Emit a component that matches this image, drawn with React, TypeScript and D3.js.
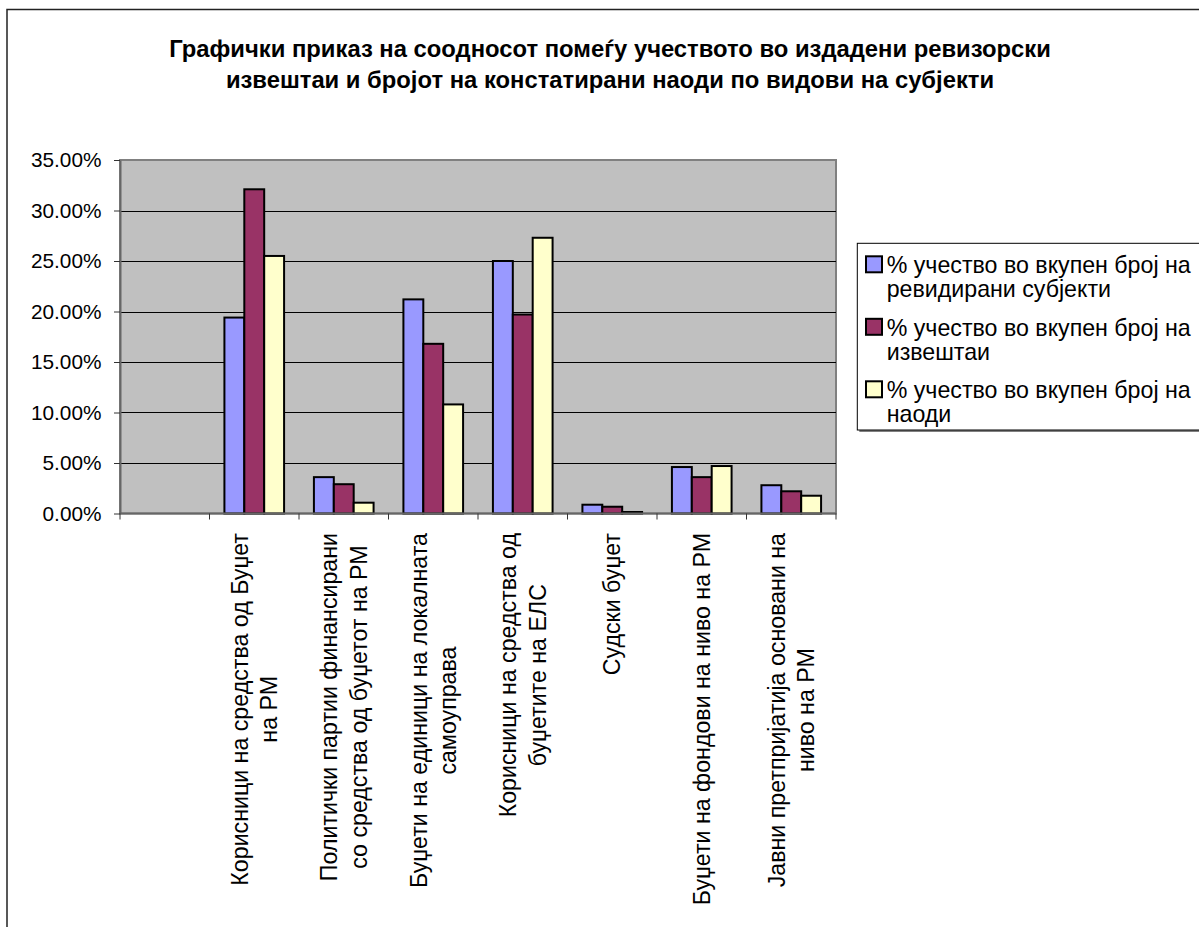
import React, { useEffect, useRef } from "react";
import * as d3 from "d3";

const titleLines: string[] = [
  "Графички приказ на соодносот помеѓу учеството во издадени ревизорски",
  "извештаи и бројот на констатирани наоди по видови на субјекти",
];

const categories: string[][] = [
  [""],
  ["Корисници на средства од Буџет", "на РМ"],
  ["Политички партии финансирани", "со средства од буџетот на РМ"],
  ["Буџети на единици на локалната", "самоуправа"],
  ["Корисници на средства од", "буџетите на ЕЛС"],
  ["Судски буџет"],
  ["Буџети на фондови на ниво на РМ"],
  ["Јавни претпријатија основани на", "ниво на РМ"],
];

const seriesNames: string[][] = [
  ["% учество во вкупен број на", "ревидирани субјекти"],
  ["% учество во вкупен број на", "извештаи"],
  ["% учество во вкупен број на", "наоди"],
];

const revidiraniSubjekti: number[] = [0, 0.194, 0.036, 0.212, 0.25, 0.0087, 0.046, 0.028];
const izvestai: number[] = [0, 0.321, 0.029, 0.168, 0.197, 0.0067, 0.036, 0.022];
const naodi: number[] = [0, 0.255, 0.0107, 0.108, 0.273, 0.0015, 0.047, 0.0176];

const yTicks: number[] = [0, 0.05, 0.1, 0.15, 0.2, 0.25, 0.3, 0.35];

const colors = ["#9999FF", "#993366", "#FFFFCC"];
const FONT = "'Liberation Sans', Arial, sans-serif";

export default function App() {
  const ref = useRef<SVGSVGElement>(null);

  useEffect(() => {
    const svg = d3.select(ref.current);
    svg.selectAll("*").remove();

    const W = 1199, H = 927;
    const plot = { left: 120, right: 836, top: 160, bottom: 513.5 };
    const series = [revidiraniSubjekti, izvestai, naodi];

    // chart border
    svg.append("rect").attr("x", 7).attr("y", 9.5).attr("width", W + 20).attr("height", H + 20)
      .attr("fill", "#fff").attr("stroke", "#222").attr("stroke-width", 1.5);

    // title
    const title = svg.append("text").attr("font-family", FONT).attr("font-weight", "bold")
      .attr("font-size", 23.8).attr("text-anchor", "middle").attr("fill", "#000");
    titleLines.forEach((t, i) => {
      title.append("tspan").attr("x", 610).attr("y", 56.7 + i * 30.8).text(t);
    });

    const x0 = d3.scaleBand<number>().domain(d3.range(categories.length))
      .range([plot.left, plot.right]).paddingInner(0).paddingOuter(0);
    const x1 = d3.scaleBand<number>().domain(d3.range(series.length))
      .range([0, x0.bandwidth()]).paddingInner(0).paddingOuter(0.75);
    const y = d3.scaleLinear().domain([0, 0.35]).range([plot.bottom, plot.top]);

    // plot area
    svg.append("rect").attr("x", plot.left).attr("y", plot.top)
      .attr("width", plot.right - plot.left).attr("height", plot.bottom - plot.top)
      .attr("fill", "#C0C0C0").attr("stroke", "#808080").attr("stroke-width", 2);

    // gridlines
    svg.append("g").selectAll("line").data(yTicks.filter(t => t > 0 && t < 0.35)).join("line")
      .attr("x1", plot.left).attr("x2", plot.right)
      .attr("y1", d => Math.round(y(d)) + 0.5).attr("y2", d => Math.round(y(d)) + 0.5)
      .attr("stroke", "#000").attr("stroke-width", 1);

    // bars
    const groups = svg.append("g").selectAll("g").data(categories.map((_, i) => i)).join("g")
      .attr("transform", i => `translate(${x0(i)},0)`);
    groups.selectAll("rect").data(i => series.map((s, k) => ({ k, v: s[i] })))
      .join("rect")
      .filter(d => d.v > 0)
      .attr("x", d => x1(d.k)!)
      .attr("width", x1.bandwidth())
      .attr("y", d => y(d.v))
      .attr("height", d => y(0) - y(d.v))
      .attr("fill", d => colors[d.k])
      .attr("stroke", "#000").attr("stroke-width", 2);

    // y axis
    const yAxis = d3.axisLeft(y).tickValues(yTicks).tickFormat(d3.format(".2%")).tickSize(6).tickSizeOuter(0);
    const ya = svg.append("g").attr("transform", `translate(${plot.left},0)`).call(yAxis);
    ya.select(".domain").attr("stroke", "#666").attr("stroke-width", 2);
    ya.selectAll(".tick line").attr("stroke", "#333");
    ya.selectAll(".tick text").attr("font-family", FONT).attr("font-size", 20.8)
      .attr("fill", "#000").attr("x", -18.5);

    // x axis
    const ticksX = d3.range(categories.length + 1).map(i => plot.left + i * x0.step());
    svg.append("line").attr("x1", plot.left).attr("x2", plot.right)
      .attr("y1", plot.bottom).attr("y2", plot.bottom).attr("stroke", "#666").attr("stroke-width", 2);
    svg.append("g").selectAll("line").data(ticksX).join("line")
      .attr("x1", d => d).attr("x2", d => d).attr("y1", plot.bottom).attr("y2", plot.bottom + 6)
      .attr("stroke", "#333").attr("stroke-width", 1);

    // category labels
    const labelSize = 23.2, lineGap = 29.5;
    categories.forEach((lines, i) => {
      if (lines.length === 1 && lines[0] === "") return;
      const cx = x0(i)! + x0.bandwidth() / 2;
      const g = svg.append("g").attr("transform", `translate(${cx},533) rotate(-90)`);
      const texts = lines.map((ln, j) => g.append("text").attr("font-family", FONT)
        .attr("font-size", labelSize).attr("fill", "#000").attr("text-anchor", "middle")
        .attr("y", (j - (lines.length - 1) / 2) * lineGap + 8).text(ln));
      const L = d3.max(texts, t => (t.node() as SVGTextElement).getComputedTextLength()) || 0;
      texts.forEach(t => t.attr("x", -L / 2));
    });

    // legend
    const lg = svg.append("g");
    lg.append("rect").attr("x", 859.3).attr("y", 245.3).attr("width", 400).attr("height", 186.7)
      .attr("fill", "#808080");
    lg.append("rect").attr("x", 857.3).attr("y", 243.3).attr("width", 400).attr("height", 186.7)
      .attr("fill", "#fff").attr("stroke", "#000").attr("stroke-width", 1);
    seriesNames.forEach((lines, k) => {
      const by = 273.3 + k * 62.5;
      lg.append("rect").attr("x", 866).attr("y", by - 17).attr("width", 16).attr("height", 16)
        .attr("fill", colors[k]).attr("stroke", "#000").attr("stroke-width", 2);
      lines.forEach((ln, j) => {
        lg.append("text").attr("x", 886.7).attr("y", by + j * 24)
          .attr("font-family", FONT).attr("font-size", 23.2).attr("fill", "#000").text(ln);
      });
    });
  }, []);

  return (
    <svg ref={ref} width={1199} height={927}
      style={{ position: "absolute", left: 0, top: 0, display: "block", background: "#fff" }} />
  );
}
